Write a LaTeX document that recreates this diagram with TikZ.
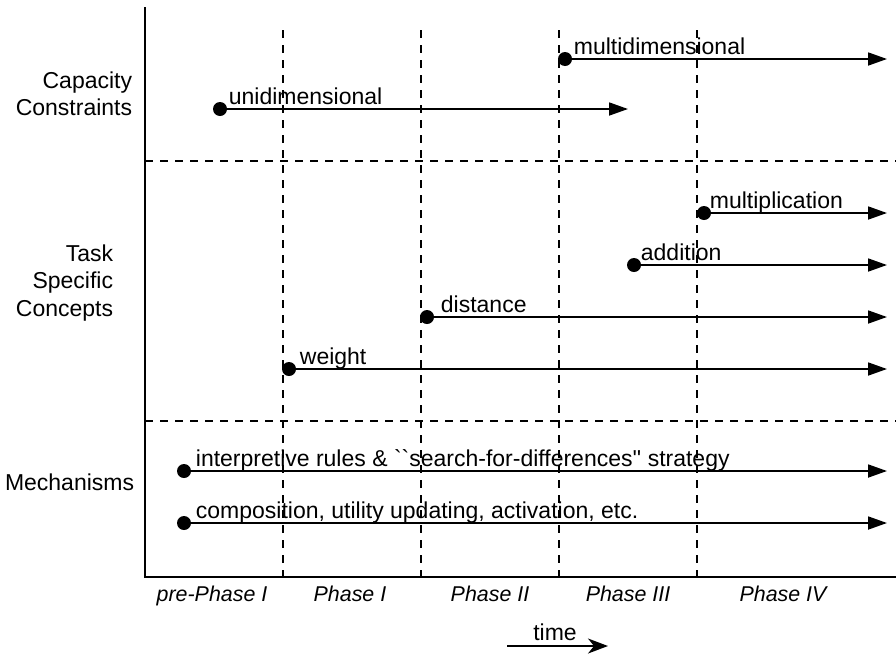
\documentclass[tikz,border=0pt]{standalone}
\usepackage{fontspec}
\setmainfont{Liberation Sans}[Ligatures=TeXOff]
\usetikzlibrary{arrows.meta,positioning}

\begin{document}
\begin{tikzpicture}[x=1pt,y=-1pt,>={Triangle[length=19pt,width=13pt]},line width=1.8pt]
\tikzstyle{every node}=[font=\fontsize{23}{27.5}\selectfont]
\tikzstyle{dot}=[circle,fill=black,inner sep=0pt,minimum size=14pt]
\tikzstyle{lbl}=[inner sep=0pt,anchor=base west]
\tikzstyle{row}=[align=right,anchor=east,inner sep=0pt]
\tikzstyle{phase}=[anchor=base,inner sep=0pt,font=\fontsize{21.4}{25}\selectfont\itshape]
\tikzstyle{divider}=[dash pattern=on 8pt off 7pt]

\useasboundingbox (0,0) rectangle (896,654);

% axes
\coordinate (top) at (145,8);
\coordinate (origin) at (145,577);
\coordinate (far) at (896,577);
\draw[line cap=rect] (top) -- (origin) -- (far);

% phase borders and row borders
\foreach \x in {283,421,559,697}
  \draw[divider] (\x,30) -- (\x,577);
\draw[divider] (145,161) -- (896,161);
\draw[divider] (145,421) -- (896,421);

% row titles
\node[row] (capacity) at (133,94) {Capacity\\Constraints};
\node[row] (task) at (114,283) {Task\\Specific\\Concepts};
\node[row,anchor=base east] (mech) at (135,490) {Mechanisms};

% start points
\node[dot] (multi) at (565,59) {};
\node[dot] (uni) at (220,109) {};
\node[dot] (mult) at (704,213) {};
\node[dot] (add) at (634,265) {};
\node[dot] (dist) at (427,317) {};
\node[dot] (wt) at (289,369) {};
\node[dot] (rules) at (184,471) {};
\node[dot] (comp) at (184,523) {};

% end points
\coordinate (multi end) at (887,59);
\coordinate (uni end) at (628,109);
\coordinate (mult end) at (887,213);
\coordinate (add end) at (887,265);
\coordinate (dist end) at (887,317);
\coordinate (wt end) at (887,369);
\coordinate (rules end) at (887,471);
\coordinate (comp end) at (887,523);

\path[->]
(multi.center) edge (multi end)
(uni.center) edge (uni end)
(mult.center) edge (mult end)
(add.center) edge (add end)
(dist.center) edge (dist end)
(wt.center) edge (wt end)
(rules.center) edge (rules end)
(comp.center) edge (comp end)
;

% labels
\node[lbl] (multi label) at ([xshift=8pt,yshift=5pt]multi.center) {multidimensional};
\node[lbl] (uni label) at ([xshift=8pt,yshift=5pt]uni.center) {unidimensional};
\node[lbl] (mult label) at ([xshift=5pt,yshift=5pt]mult.center) {multiplication};
\node[lbl] (add label) at ([xshift=6pt,yshift=5pt]add.center) {addition};
\node[lbl] (dist label) at ([xshift=13pt,yshift=5pt]dist.center) {distance};
\node[lbl] (wt label) at ([xshift=10pt,yshift=5pt]wt.center) {weight};
\node[lbl] (rules label) at ([xshift=11pt,yshift=5pt]rules.center) {interpretive rules \& ``search-for-differences'' strategy};
\node[lbl] (comp label) at ([xshift=11pt,yshift=5pt]comp.center) {composition, utility updating, activation, etc.};

% phases
\node[phase] (pre) at (212,601) {pre-Phase I};
\node[phase] (p1) at (350,601) {Phase I};
\node[phase] (p2) at (490,601) {Phase II};
\node[phase] (p3) at (628,601) {Phase III};
\node[phase] (p4) at (783,601) {Phase IV};

% time
\node[anchor=base,inner sep=0pt] (time) at (555,640) {time};
\coordinate (t0) at (507,646);
\coordinate (t1) at (608,646);
\draw[-{Stealth[length=20pt,width=15pt,inset=6pt]}] (t0) -- (t1);
\end{tikzpicture}
\end{document}
